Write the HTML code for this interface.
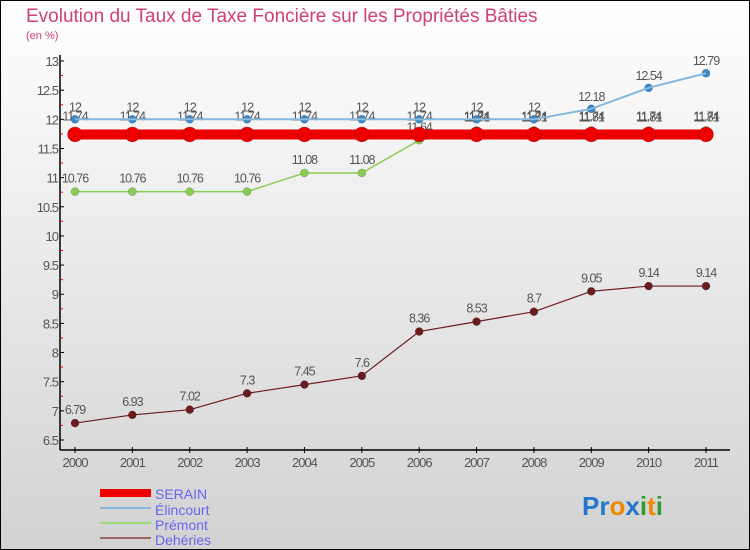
<!DOCTYPE html>
<html><head><meta charset="utf-8"><style>
body{margin:0}
#c{width:750px;height:550px;position:relative;overflow:hidden;font-family:"Liberation Sans",sans-serif}
</style></head><body>
<div id="c">
<svg id="s" width="750" height="550" xmlns="http://www.w3.org/2000/svg">
<defs><linearGradient id="bg" x1="0" y1="0" x2="0" y2="1"><stop offset="0" stop-color="#ffffff"/><stop offset="1" stop-color="#d2d2d2"/></linearGradient></defs>
<rect x="0.5" y="0.5" width="749" height="549" fill="url(#bg)" stroke="#000"/>
<text x="26" y="22" font-size="19" fill="#d04070">Evolution du Taux de Taxe Foncière sur les Propriétés Bâties</text>
<text x="26" y="39" font-size="11" fill="#d04070">(en %)</text>
<g id="axes"></g><g id="series"></g>
<g>
<rect x="100" y="489" width="51" height="8" fill="#ee0000"/>
<text x="155" y="499" font-size="14" fill="#6666ee">SERAIN</text>
<rect x="100" y="507" width="51" height="2" fill="#88b4d8"/>
<text x="155" y="515" font-size="14" fill="#6666ee">Élincourt</text>
<rect x="100" y="522" width="51" height="2" fill="#99dd77"/>
<text x="155" y="530" font-size="14" fill="#6666ee">Prémont</text>
<rect x="100" y="537" width="51" height="2" fill="#996666"/>
<text x="155" y="545" font-size="14" fill="#6666ee">Dehéries</text>
</g>
<text x="582" y="515" font-size="26" font-weight="bold"><tspan fill="#2277cc">Pr</tspan><tspan fill="#ee8800">o</tspan><tspan fill="#2277cc">x</tspan><tspan fill="#339933">i</tspan><tspan fill="#ee8800">t</tspan><tspan fill="#339933">i</tspan></text>
</svg></div>
<script>
const years=["2000","2001","2002","2003","2004","2005","2006","2007","2008","2009","2010","2011"];
const serain=[11.74,11.74,11.74,11.74,11.74,11.74,11.74,11.74,11.74,11.74,11.74,11.74];
const elincourt=[12,12,12,12,12,12,12,12,12,12.18,12.54,12.79];
const premont=[10.76,10.76,10.76,10.76,11.08,11.08,11.64,11.81,11.81,11.81,11.81,11.81];
const deheries=[6.79,6.93,7.02,7.3,7.45,7.6,8.36,8.53,8.7,9.05,9.14,9.14];
const yTicks=[6.5,7,7.5,8,8.5,9,9.5,10,10.5,11,11.5,12,12.5,13];
const NS="http://www.w3.org/2000/svg";
const X=i=>75+i*(706-75)/11;
const Y=v=>440-(v-6.5)*(440-61)/6.5;
function mk(t,a,p){const e=document.createElementNS(NS,t);for(const k in a)e.setAttribute(k,a[k]);p.appendChild(e);return e;}
const ax=document.getElementById('axes');
let e=mk('line',{x1:60,y1:55,x2:60,y2:450,stroke:'#000','stroke-width':1.5},ax);


e=mk('line',{x1:60,y1:450,x2:730,y2:450,stroke:'#000','stroke-width':1.5},ax);


yTicks.forEach((v,i)=>{const y=Y(v);
 mk('line',{x1:60,y1:y,x2:64,y2:y,stroke:'#000'},ax);
 if(i<yTicks.length-1)mk('line',{x1:60,y1:Y(v+0.25),x2:63,y2:Y(v+0.25),stroke:'#e00'},ax);
 const t=mk('text',{x:58,y:y+5,'font-size':13,fill:'#555','text-anchor':'end','letter-spacing':'-1'},ax);t.textContent=String(v);
 
 });
years.forEach((yr,i)=>{const x=X(i);
 mk('line',{x1:x,y1:447,x2:x,y2:453,stroke:'#000'},ax);
 const t=mk('text',{x:x,y:467,'font-size':13,fill:'#555','text-anchor':'middle','letter-spacing':'-1'},ax);t.textContent=yr;
 
 });
const sg=document.getElementById('series');
function series(name,vals,color,w,r,lblOff){
 const g=mk('g',{},sg);
 
 
 mk('polyline',{points:vals.map((v,i)=>X(i)+','+Y(v)).join(' '),fill:'none',stroke:color,'stroke-width':w},g);
 vals.forEach((v,i)=>{const c=mk('circle',{cx:X(i),cy:Y(v),r:r,fill:color,stroke:'rgba(0,0,0,0.3)','stroke-width':0.5},g);
  
  
  const t=mk('text',{x:X(i),y:Y(v)+lblOff,'font-size':12.5,fill:'#555','text-anchor':'middle','letter-spacing':'-1'},g);t.textContent=String(v);
  
  });
}
series('premont',premont,'#88cc55',1.5,4,-9);
series('deheries',deheries,'#6b1c1c',1.2,4,-9);
series('serain',serain,'#ee0000',10,7.5,-14);
series('elincourt',elincourt,'#3a88c8',1.5,4,-8);
const ln=mk('polyline',{points:elincourt.map((v,i)=>X(i)+','+Y(v)).join(' '),fill:'none',stroke:'#88b8dd','stroke-width':2},sg);
sg.insertBefore(ln,sg.lastChild);
</script>
</body></html>
